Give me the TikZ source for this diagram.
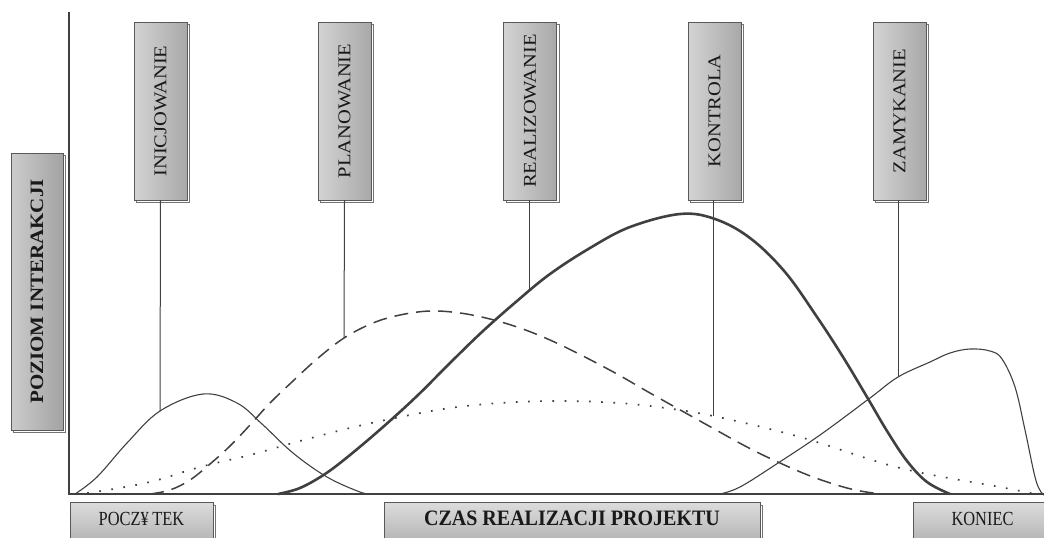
\documentclass[tikz,border=0pt]{standalone}
\usepackage{fontspec}
\setmainfont{Liberation Serif}
\usetikzlibrary{shadows}
\begin{document}
\begin{tikzpicture}[x=1pt,y=-1pt,
  axisline/.style={draw=black!75, line width=1.5pt},
  curvethin/.style={draw=black!75, line width=1.1pt},
  curvethick/.style={draw=black!75, line width=2.6pt},
  curvedash/.style={draw=black!75, line width=1.5pt, dash pattern=on 14pt off 8pt},
  curvedot/.style={draw=black!75, line width=1.7pt, dash pattern=on 1.7pt off 10.5pt},
  conn/.style={draw=black!75, line width=1pt},
  boxshadow/.style={general shadow={fill=white, draw=black!55, line width=0.8pt, shadow xshift=2.5pt, shadow yshift=-2.5pt}},
  vbox/.style={boxshadow, draw=black!65, line width=0.8pt, left color=black!17, right color=black!34,
    minimum width=53pt, minimum height=178pt, inner sep=0pt, text=black!90,
    font=\fontsize{20.5}{22}\selectfont},
  sidebox/.style={boxshadow, draw=black!65, line width=0.8pt, left color=black!20, right color=black!36,
    minimum width=52pt, minimum height=277pt, inner sep=0pt, text=black!90,
    font=\fontsize{21}{23}\selectfont\bfseries},
  hbox/.style={boxshadow, draw=black!65, line width=0.8pt, top color=black!14, bottom color=black!32,
    anchor=north, inner xsep=0pt, inner ysep=0pt, text height=23pt, text depth=23pt, text=black!90,
    font=\fontsize{20}{22}\selectfont}
]
\useasboundingbox (0,0) rectangle (1044,538);
\clip (0,0) rectangle (1044,538);

% axes
\coordinate (ytop) at (69,12);
\coordinate (orig) at (69,494);
\coordinate (xend) at (1044,494);
\draw[axisline] (ytop) -- (orig) -- (xend);

% curves
\draw[curvethin] plot[smooth, tension=0.6] coordinates {
 (75,494) (97,477) (127,443) (160,411) (203,394) (237,403) (262,424) (293,453) (327,477) (360,492) (372,494)};
\draw[curvedash] plot[smooth, tension=0.6] coordinates {
 (150,494) (170,490) (190,480) (210,464) (230,446) (250,425) (270,403) (293,381) (317,359) (344,338)
 (373,323) (400,315) (430,311) (460,313) (490,319) (520,328) (550,340) (583,356) (617,374) (650,393)
 (700,421) (747,447) (780,463) (813,477) (847,488) (873,493) (890,494)};
\draw[curvethick] plot[smooth, tension=0.6] coordinates {
 (278,494) (300,488) (325,474) (350,455) (383,427) (417,396) (450,363) (483,331) (517,301) (550,274)
 (590,248) (630,227) (680,214) (715,219) (750,238) (785,272) (817,317) (843,357) (867,397) (887,431)
 (907,461) (927,482) (950,494)};
\draw[curvedot] plot[smooth, tension=0.6] coordinates {
 (75,494) (95,492) (150,482) (200,467) (250,455) (300,441) (350,428) (400,417) (450,408) (500,403)
 (550,401) (600,402) (650,406) (713,416) (800,437) (900,468) (1000,487) (1035,494)};
\draw[curvethin] plot[smooth, tension=0.6] coordinates {
 (720,494) (740,487) (775,465) (820,435) (870,398) (898,377) (930,362) (950,353) (970,349) (990,351)
 (1002,359) (1015,387) (1025,430) (1035,477) (1041,492) (1046,496)};

% connector ends on the curves
\coordinate (pini) at (160,411);
\coordinate (ppla) at (344,338);
\coordinate (prea) at (529,292);
\coordinate (pkon) at (713,416);
\coordinate (pzam) at (898,377);

% top labels
\node[vbox] (ini) at (160.5,111) {\rotatebox{90}{\scalebox{1}[0.88]{INICJOWANIE}}};
\node[vbox] (pla) at (344.5,111) {\rotatebox{90}{\scalebox{1}[0.88]{PLANOWANIE}}};
\node[vbox] (rea) at (530,111) {\rotatebox{90}{\scalebox{1}[0.88]{REALIZOWANIE}}};
\node[vbox] (kon) at (714.5,111) {\rotatebox{90}{\scalebox{1}[0.88]{KONTROLA}}};
\node[vbox] (zam) at (899.5,111) {\rotatebox{90}{\scalebox{1}[0.88]{ZAMYKANIE}}};

\draw[conn] (ini.south) -- (pini);
\draw[conn] (pla.south) -- (ppla);
\draw[conn] (rea.south -| prea) -- (prea);
\draw[conn] (kon.south -| pkon) -- (pkon);
\draw[conn] (zam.south -| pzam) -- (pzam);

% side label
\node[sidebox] (poz) at (37,291.5) {\rotatebox{90}{\scalebox{1}[0.9]{POZIOM INTERAKCJI}}};

% bottom labels
\node[hbox, minimum width=143pt] (pocz) at (141.5,502) {\scalebox{0.82}[1]{POCZ¥\hspace{4.4pt}TEK}};
\node[hbox, minimum width=376pt, font=\fontsize{22}{24}\selectfont\bfseries] (czas) at (572,502) {\scalebox{0.91}[1]{CZAS REALIZACJI PROJEKTU}};
\node[hbox, minimum width=139pt] (kon2) at (982.5,502) {\scalebox{0.82}[1]{KONIEC}};
\end{tikzpicture}
\end{document}
